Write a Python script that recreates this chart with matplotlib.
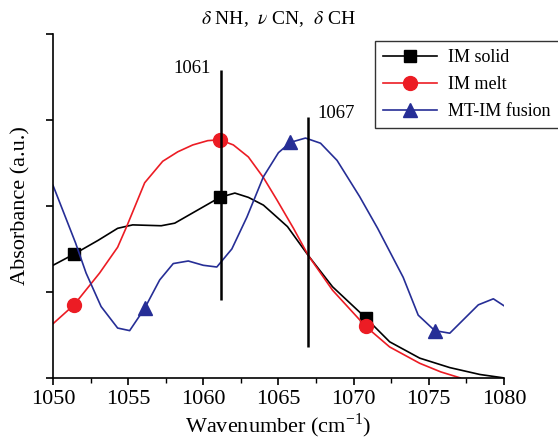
import numpy as np
import matplotlib
matplotlib.use("Agg")
from matplotlib import pyplot as plt
from matplotlib.ticker import MultipleLocator

plt.rcParams['font.family'] = ['Liberation Serif', 'DejaVu Serif']
plt.rcParams['mathtext.fontset'] = 'stix'

# IM solid
x_solid = [1050, 1051.4, 1053, 1054.3, 1055.3, 1057.2, 1058.1, 1059.1, 1060, 1061.1,
           1062.1, 1063, 1064, 1064.9, 1065.6, 1067, 1068.6, 1070.8, 1072.4, 1074.4,
           1076.4, 1078.4, 1080]
y_solid = [1.31, 1.44, 1.60, 1.74, 1.78, 1.77, 1.80, 1.90, 1.99, 2.10,
           2.15, 2.10, 2.01, 1.87, 1.76, 1.42, 1.06, 0.70, 0.42, 0.23,
           0.12, 0.04, 0.0]
mk_solid = [1, 9, 17]

# IM melt
x_melt = [1050, 1051.4, 1053.1, 1054.3, 1054.9, 1056.1, 1057.3, 1058.3, 1059.3, 1060.3,
          1061.1, 1062, 1063, 1064, 1064.9, 1066, 1067, 1068.6, 1070.8, 1072.4,
          1074.4, 1075.8, 1077.1]
y_melt = [0.63, 0.85, 1.22, 1.52, 1.76, 2.27, 2.52, 2.63, 2.71, 2.76,
          2.77, 2.71, 2.57, 2.33, 2.07, 1.74, 1.42, 1.02, 0.60, 0.36,
          0.17, 0.07, 0.0]
mk_melt = [1, 10, 18]

# MT-IM fusion
x_fus = [1050, 1051.5, 1052.2, 1053.2, 1054.3, 1055.1, 1056.1, 1057.1, 1058, 1059,
         1060, 1060.9, 1061.9, 1062.9, 1064, 1065, 1065.8, 1066.8, 1067.8, 1068.9,
         1070.4, 1071.6, 1073.3, 1074.3, 1075.4, 1076.4, 1078.3, 1079.3, 1080]
y_fus = [2.24, 1.57, 1.22, 0.83, 0.58, 0.55, 0.81, 1.14, 1.33, 1.36,
         1.31, 1.29, 1.50, 1.87, 2.34, 2.62, 2.74, 2.79, 2.73, 2.53,
         2.11, 1.74, 1.17, 0.73, 0.55, 0.52, 0.85, 0.92, 0.84]
mk_fus = [6, 16, 24]

# peak markers: position, bottom, top
peaks = [1061.2, 1067.0]
peak_lo = [0.91, 0.36]
peak_hi = [3.58, 3.03]
peak_labels = ['1061', '1067']

fig = plt.figure(figsize=(5.58, 4.42), dpi=100)
ax = fig.add_axes([0.095, 0.145, 0.808, 0.778])

ax.plot(x_solid, y_solid, color='black', lw=1.2, marker='s', ms=9,
        markevery=mk_solid, label='IM solid')
ax.plot(x_melt, y_melt, color='#ec1c24', lw=1.2, marker='o', ms=10,
        markevery=mk_melt, label='IM melt')
ax.plot(x_fus, y_fus, color='#262e96', lw=1.2, marker='^', ms=10,
        markevery=mk_fus, label='MT-IM fusion')

ax.vlines(peaks, peak_lo, peak_hi, color='black', lw=1.8)
ax.text(peaks[0] - 0.7, peak_hi[0] + 0.02, peak_labels[0], ha='right', va='center', fontsize=13.5)
ax.text(peaks[1] + 0.6, peak_hi[1] + 0.05, peak_labels[1], ha='left', va='center', fontsize=13.5)

ax.set_xlim(1050, 1080)
ax.set_ylim(0, 4)
ax.xaxis.set_major_locator(MultipleLocator(5))
ax.xaxis.set_minor_locator(MultipleLocator(2.5))
ax.yaxis.set_major_locator(MultipleLocator(1))
ax.set_yticklabels([])
ax.tick_params(axis='both', which='major', direction='out', length=5, width=1.2,
               labelsize=16)
ax.tick_params(axis='x', which='minor', direction='out', length=3.5, width=1.0)
for side in ['top', 'right']:
    ax.spines[side].set_visible(False)
for side in ['left', 'bottom']:
    ax.spines[side].set_linewidth(1.2)

ax.set_xlabel('Wavenumber (cm$^{\\mathregular{-1}}$)', fontsize=16, labelpad=2)
ax.set_ylabel('Absorbance (a.u.)', fontsize=16, labelpad=8)
ax.set_title('$\\delta$ NH,  $\\nu$ CN,  $\\delta$ CH', fontsize=14, pad=7)

leg = fig.legend(loc='upper left', bbox_to_anchor=(375 / 558, 1 - 41 / 442),
                 borderaxespad=0, fontsize=13, frameon=True, fancybox=False,
                 edgecolor='black', handlelength=3.0, labelspacing=0.55,
                 borderpad=0.45, handletextpad=0.6)
leg.get_frame().set_linewidth(1.0)

fig.savefig('out.png', dpi=100)
